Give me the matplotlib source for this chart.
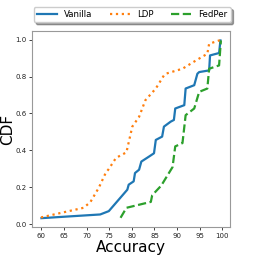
import matplotlib
matplotlib.use("Agg")
import matplotlib.pyplot as plt

# CDF curves (accuracy, cumulative fraction)
vanilla_acc = [60.0, 73.0, 74.9, 79.0, 79.3, 80.4, 80.7, 81.6, 82.1, 83.8, 84.9, 85.3,
               86.7, 87.1, 88.6, 89.3, 89.6, 91.6, 91.9, 93.8, 94.5, 94.9, 97.1, 97.3,
               99.3, 99.6]
vanilla_cdf = [0.034, 0.054, 0.072, 0.188, 0.215, 0.233, 0.278, 0.296, 0.34, 0.367, 0.385, 0.457,
               0.475, 0.529, 0.556, 0.565, 0.627, 0.645, 0.735, 0.753, 0.815, 0.824, 0.833, 0.914,
               0.927, 0.995]

ldp_acc = [59.9, 69.3, 70.8, 72.7, 74.2, 74.9, 76.5, 78.8, 80.1, 81.6, 83.0, 85.3, 87.1,
           87.5, 91.2, 94.2, 96.7, 97.1, 99.7]
ldp_cdf = [0.038, 0.09, 0.12, 0.199, 0.278, 0.30, 0.36, 0.39, 0.529, 0.582, 0.672, 0.735, 0.806,
           0.815, 0.842, 0.887, 0.923, 0.977, 0.998]

fedper_acc = [77.5, 78.8, 84.2, 84.5, 86.5, 89.0, 89.6, 91.2, 91.9, 93.8, 94.9, 96.7, 97.1,
              99.3, 99.7]
fedper_cdf = [0.036, 0.09, 0.122, 0.158, 0.21, 0.31, 0.422, 0.44, 0.591, 0.627, 0.717, 0.735, 0.842,
              0.86, 0.995]

fig = plt.figure(figsize=(2.56, 2.56), dpi=100)
ax = fig.add_axes([0.125, 0.113, 0.773, 0.766])

ax.plot(vanilla_acc, vanilla_cdf, '-', color='tab:blue', lw=1.6, label='Vanilla')
ax.plot(ldp_acc, ldp_cdf, ':', color='tab:orange', lw=1.6, label='LDP')
ax.plot(fedper_acc, fedper_cdf, '--', color='tab:green', lw=1.6, label='FedPer')

ax.set_xticks([60, 65, 70, 75, 80, 85, 90, 95, 100])
ax.set_yticks([0.0, 0.2, 0.4, 0.6, 0.8, 1.0])
ax.tick_params(labelsize=5, length=2, width=0.6, pad=2, colors='#222222')
for s in ax.spines.values():
    s.set_color('#999999')
    s.set_linewidth(0.8)
ax.set_xlabel('Accuracy', fontsize=11, labelpad=1)
ax.set_ylabel('CDF', fontsize=11)
ax.yaxis.set_label_coords(-0.085, 0.5)

fig.legend(loc='upper center', bbox_to_anchor=(0.516, 0.99), ncol=3, fontsize=6.2,
           shadow=True, handlelength=2.4, columnspacing=2.0, borderpad=0.35,
           handletextpad=0.8)

fig.savefig('out.png', dpi=100)
